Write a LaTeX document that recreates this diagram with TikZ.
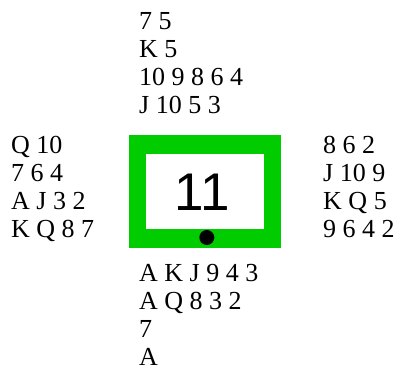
\documentclass[tikz,border=0pt]{standalone}
\usepackage{fontspec}
\setmainfont{Liberation Serif}
\newfontfamily\numfont{Liberation Sans}
\definecolor{boardgreen}{RGB}{0,204,0}
\newcommand{\handfont}{\fontsize{26}{28}\selectfont}
\begin{document}
\begin{tikzpicture}[x=1pt,y=-1pt,
  hand/.style={anchor=north west,inner sep=0pt,align=left,font=\handfont}]
\useasboundingbox (0,0) rectangle (398,371);
\fill[boardgreen] (129,135) rectangle (281,248);
\fill[white] (146,154) rectangle (264,229);
\fill[black] (206.8,237.5) circle (7.5);
\node[inner sep=0pt,font=\numfont\fontsize{53}{53}\selectfont] (num) at (202.5,192) {11};
\node[hand] (north) at (139,12) {7 5\\K 5\\10 9 8 6 4\\J 10 5 3};
\node[hand] (west) at (11,136.5) {Q 10\\7 6 4\\A J 3 2\\K Q 8 7};
\node[hand] (east) at (323,136.5) {8 6 2\\J 10 9\\K Q 5\\9 6 4 2};
\node[hand] (south) at (139,264.5) {A K J 9 4 3\\A Q 8 3 2\\7\\A};
\end{tikzpicture}
\end{document}
